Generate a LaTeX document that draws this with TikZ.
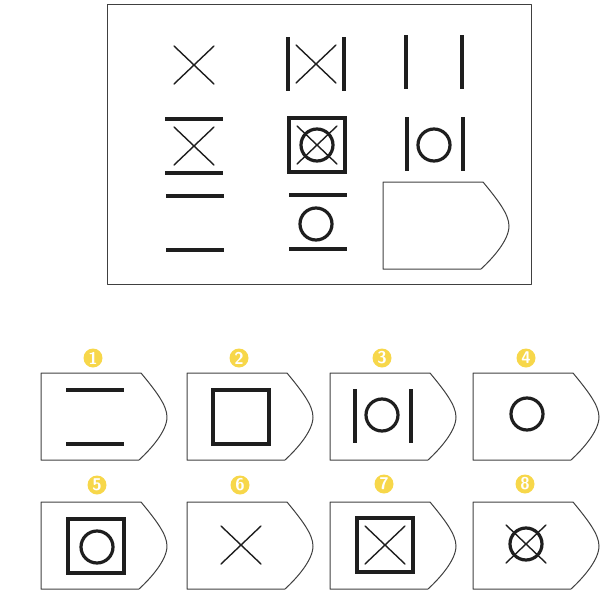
\documentclass[tikz,border=0pt]{standalone}
\usetikzlibrary{positioning}
\definecolor{ink}{HTML}{1E1E1E}
\definecolor{tagyellow}{HTML}{F7D74A}
\begin{document}
\begin{tikzpicture}[x=1pt,y=-1pt]
      \tikzset{
        xline/.style={ink,line width=1.4pt,line cap=round},
        barline/.style={ink,line width=3.2pt},
        tagline/.style={ink!85,line width=1pt,line join=round},
        num/.style={circle,fill=tagyellow,text=white,inner sep=0pt,minimum size=19pt,
          font=\sffamily\bfseries\fontsize{17}{17}\selectfont},
        pics/xmark/.style={code={\draw[xline] (-20,-19) -- (20,19) (-20,19) -- (20,-19);}},
        pics/vbars/.style={code={\draw[barline] (-28,-27) -- (-28,27) (28,-27) -- (28,27);}},
        pics/hbars/.style={code={\draw[barline] (-29,-27) -- (29,-27) (-29,27) -- (29,27);}},
        pics/sqframe/.style={code={\draw[barline] (-28,-27) rectangle (28,27);}},
        pics/ring/.style={code={\draw[barline] (0,0) circle (16);}},
        pics/tag/.style={code={\draw[tagline] (0,0) -- (100,0)
          .. controls (114,17) and (126,32) .. (126,44)
          .. controls (126,58) and (110,76) .. (98,87) -- (0,87) -- cycle;}}
      }
      \useasboundingbox (0,0) rectangle (606,592);

      % question panel
      \draw[tagline] (107,4) rectangle (531,284);
      \pic at (194,65) {xmark};
      \pic at (316,64) {vbars};
      \pic at (316,64) {xmark};
      \pic at (434,62) {vbars};

      \pic at (194,146) {hbars};
      \pic at (194,146) {xmark};
      \pic at (317,145) {sqframe};
      \pic at (317,145) {ring};
      \pic at (317,145) {xmark};
      \pic at (435,144) {vbars};
      \pic at (434,145) {ring};

      \pic at (195,223) {hbars};
      \pic at (318,222) {hbars};
      \pic at (316,224) {ring};
      \pic at (383,182) {tag};

      % answers
      \node[num] (n1) at (93,358) {1};
      \node[num] (n2) at (239,358) {2};
      \node[num] (n3) at (382,358) {3};
      \node[num] (n4) at (526,358) {4};
      \node[num] (n5) at (97,485) {5};
      \node[num] (n6) at (240,485) {6};
      \node[num] (n7) at (384,484) {7};
      \node[num] (n8) at (525,484) {8};

      \pic at (41,373) {tag};
      \pic at (95,417) {hbars};
      \pic at (187,373) {tag};
      \pic at (241,417) {sqframe};
      \pic at (330,373) {tag};
      \pic at (383,416) {vbars};
      \pic at (382,415) {ring};
      \pic at (473,373) {tag};
      \pic at (527,414) {ring};

      \pic at (41,502) {tag};
      \pic at (96,546) {sqframe};
      \pic at (97,547) {ring};
      \pic at (187,502) {tag};
      \pic at (241,545) {xmark};
      \pic at (330,502) {tag};
      \pic at (385,545) {sqframe};
      \pic at (385,545) {xmark};
      \pic at (473,502) {tag};
      \pic at (526,544) {ring};
      \pic at (526,544) {xmark};
\end{tikzpicture}
\end{document}
